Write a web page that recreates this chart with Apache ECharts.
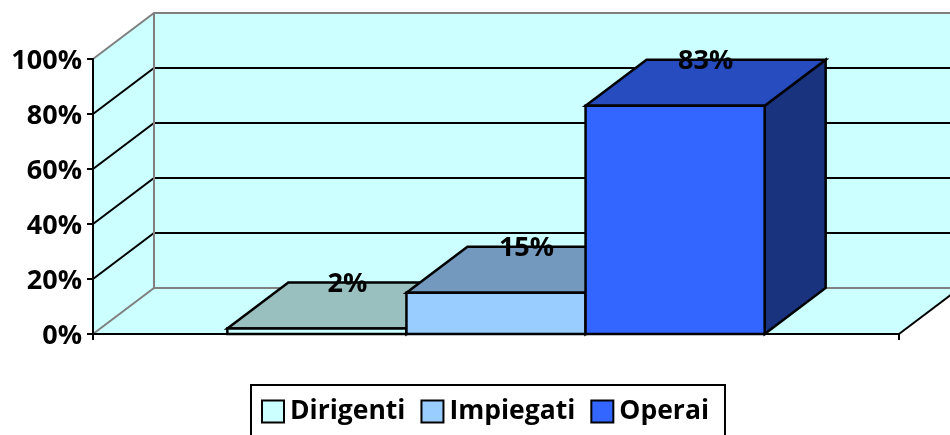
<!DOCTYPE html>
<html>
<head>
<meta charset="utf-8">
<title>Dirigenti, Impiegati, Operai</title>
<script src="https://cdn.jsdelivr.net/npm/echarts@6/dist/echarts.min.js"></script>
<style>
  html, body { margin: 0; padding: 0; background: #fff; overflow: hidden; }
  #chart { width: 950px; height: 435px; }
</style>
</head>
<body>
<div id="chart"></div>
<script>
  // dati
  var categories = [''];
  var seriesNames = ['Dirigenti', 'Impiegati', 'Operai'];
  var seriesValues = [2, 15, 83];
  var yTicks = [0, 20, 40, 60, 80, 100];

  // colori: fronte, sopra, lato
  var frontColors = ['#CCFFFF', '#99CCFF', '#3366FF'];
  var topColors = ['#99BFBF', '#7399BF', '#264CBF'];
  var sideColors = ['#667F7F', '#4C667F', '#19337F'];

  // profondita' finta del 3D, in pixel
  var depthX = 61;
  var depthY = -46;
  var gapWidth = 1.5;
  var fontName = '"Open Sans"';

  function shift(p) {
    return [p[0] + depthX, p[1] + depthY];
  }

  function face(points, fill, stroke) {
    return {
      type: 'polygon',
      shape: { points: points },
      style: { fill: fill, stroke: stroke || '#000', lineWidth: 2.5, lineJoin: 'miter' }
    };
  }

  function line(points, color) {
    return {
      type: 'polyline',
      shape: { points: points },
      style: { fill: null, stroke: color, lineWidth: 2 }
    };
  }

  // pareti, pavimento e griglia
  function renderWalls(params, api) {
    var catWidth = api.size([1, 0])[0];
    var o = api.coord([0, 0]);
    var left = o[0] - catWidth / 2;
    var right = o[0] + catWidth / 2;
    var y0 = o[1];
    var y1 = api.coord([0, yTicks[yTicks.length - 1]])[1];
    var wall = '#CCFFFF';
    var gray = '#808080';
    var children = [
      { type: 'polygon', shape: { points: [[left, y0], shift([left, y0]), shift([left, y1]), [left, y1]] }, style: { fill: wall } },
      { type: 'polygon', shape: { points: [shift([left, y0]), shift([right, y0]), shift([right, y1]), shift([left, y1])] }, style: { fill: wall } },
      { type: 'polygon', shape: { points: [[left, y0], [right, y0], shift([right, y0]), shift([left, y0])] }, style: { fill: wall } }
    ];
    yTicks.forEach(function (t, i) {
      if (i === 0 || i === yTicks.length - 1) return;
      var y = api.coord([0, t])[1];
      children.push(line([[left, y], shift([left, y]), shift([right, y])], '#000'));
    });
    children.push(line([[left, y1], shift([left, y1]), shift([right, y1])], gray));
    children.push(line([[left, y0], shift([left, y0]), shift([right, y0])], gray));
    children.push(line([shift([left, y0]), shift([left, y1])], gray));
    children.push(line([[right, y0], shift([right, y0])], '#000'));
    return { type: 'group', children: children };
  }

  // una barra "3D": lato, sopra, fronte e etichetta
  function makeRenderBar(index) {
    return function (params, api) {
      var cat = api.value(0);
      var val = api.value(1);
      var catWidth = api.size([1, 0])[0];
      var barWidth = catWidth / (seriesNames.length + gapWidth);
      var c = api.coord([cat, 0]);
      var top = api.coord([cat, val])[1];
      var x0 = c[0] - barWidth * seriesNames.length / 2 + barWidth * index;
      var x1 = x0 + barWidth;
      var y0 = c[1];
      var a = [x0, y0], b = [x1, y0], d = [x1, top], e = [x0, top];
      return {
        type: 'group',
        children: [
          face([b, shift(b), shift(d), d], sideColors[index]),
          face([e, d, shift(d), shift(e)], topColors[index]),
          face([a, b, d, e], frontColors[index]),
          {
            type: 'text',
            style: {
              x: (x0 + x1) / 2 + depthX / 2,
              y: top + depthY + 2,
              text: val + '%',
              align: 'center',
              verticalAlign: 'middle',
              fill: '#000',
              font: 'bold 27px ' + fontName
            }
          }
        ]
      };
    };
  }

  var series = [{
    type: 'custom',
    name: 'walls',
    silent: true,
    z: 1,
    renderItem: renderWalls,
    data: [[0, 0]]
  }];
  seriesNames.forEach(function (name, i) {
    series.push({
      type: 'custom',
      name: name,
      z: 2 + i,
      itemStyle: { color: frontColors[i] },
      renderItem: makeRenderBar(i),
      encode: { x: 0, y: 1 },
      data: [[0, seriesValues[i]]]
    });
  });

  var myChart = echarts.init(document.getElementById('chart'));
  myChart.setOption({
    animation: false,
    backgroundColor: '#fff',
    grid: { left: 93, right: 51, top: 59, bottom: 101 },
    legend: {
      data: seriesNames,
      left: 251,
      top: 385,
      padding: [13, 16, 40, 10],
      borderColor: '#000',
      borderWidth: 2,
      itemWidth: 22,
      itemHeight: 22,
      itemGap: 15,
      selectedMode: false,
      icon: 'rect',
      itemStyle: { borderColor: '#000', borderWidth: 2 },
      textStyle: { color: '#000', fontFamily: 'Open Sans', fontWeight: 'bold', fontSize: 26.5, padding: [6, 0, 0, 1] }
    },
    xAxis: {
      type: 'category',
      data: categories,
      z: 9,
      axisLine: { lineStyle: { color: '#000', width: 2 } },
      axisTick: { show: true, interval: 0, length: 6, lineStyle: { color: '#000', width: 2 } },
      axisLabel: { show: false }
    },
    yAxis: {
      type: 'value',
      min: yTicks[0],
      max: yTicks[yTicks.length - 1],
      interval: yTicks[1] - yTicks[0],
      z: 9,
      splitLine: { show: false },
      axisLine: { show: true, lineStyle: { color: '#000', width: 2 } },
      axisTick: { show: true, length: 6, lineStyle: { color: '#000', width: 2 } },
      axisLabel: {
        formatter: '{value}%',
        margin: 11,
        verticalAlign: 'top',
        lineHeight: 5,
        color: '#000',
        fontFamily: 'Open Sans',
        fontWeight: 'bold',
        fontSize: 27
      }
    },
    series: series
  });
  window.addEventListener('resize', function () { myChart.resize(); });
</script>
</body>
</html>
